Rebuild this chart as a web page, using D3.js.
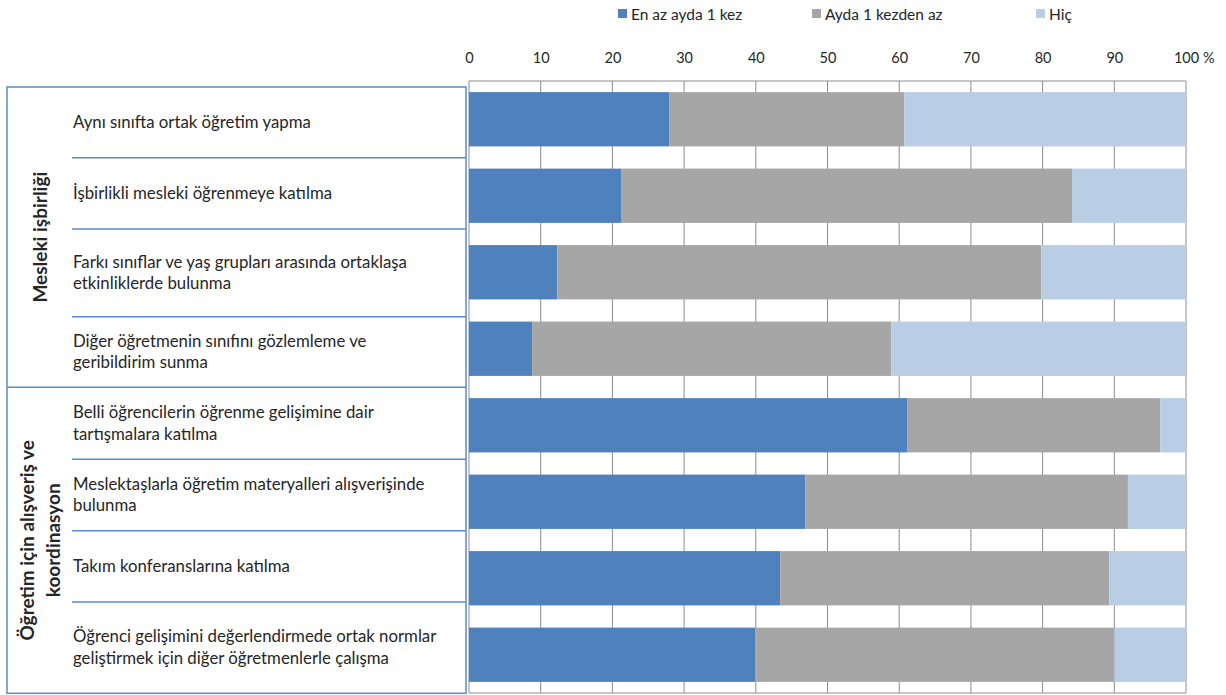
<!DOCTYPE html>
<html><head><meta charset="utf-8">
<script src="https://cdn.jsdelivr.net/npm/d3@7"></script>
<style>
body{margin:0;background:#fff;}
svg text{font-family:Lato,"Open Sans",sans-serif;fill:#262626;}
</style></head>
<body><svg id="c" width="1226" height="695"></svg>
<script>
// ---- data ----
const categories = [
  "Aynı sınıfta ortak öğretim yapma",
  "İşbirlikli mesleki öğrenmeye katılma",
  "Farkı sınıflar ve yaş grupları arasında ortaklaşa|etkinliklerde bulunma",
  "Diğer öğretmenin sınıfını gözlemleme ve|geribildirim sunma",
  "Belli öğrencilerin öğrenme gelişimine dair|tartışmalara katılma",
  "Meslektaşlarla öğretim materyalleri alışverişinde|bulunma",
  "Takım konferanslarına katılma",
  "Öğrenci gelişimini değerlendirmede ortak normlar|geliştirmek için diğer öğretmenlerle çalışma"
];
const enAzAydaBir = [27.9, 21.2, 12.3, 8.8, 61.1, 46.9, 43.4, 39.9];
const aydaBirdenAz = [32.8, 62.9, 67.5, 50.1, 35.3, 45.0, 45.9, 50.1];
const hic = [39.3, 15.9, 20.2, 41.1, 3.6, 8.1, 10.7, 10.0];
const seriesNames = ["En az ayda 1 kez", "Ayda 1 kezden az", "Hiç"];
const groups = ["Mesleki işbirliği", "Öğretim için alışveriş ve|koordinasyon"];
const groupSizes = [4, 4];
const ticks = [0,10,20,30,40,50,60,70,80,90,100];

// ---- layout ----
const colors = ["#4F81BD", "#A6A6A6", "#B9CDE5"];
const svg = d3.select("#c");
const x = d3.scaleLinear().domain([0,100]).range([469,1186]);
const y = d3.scaleBand().domain(d3.range(categories.length)).range([81,693]).paddingInner(0.29).paddingOuter(0.145);

// gridlines
svg.append("g").selectAll("line").data(ticks).join("line")
  .attr("x1", d=>x(d)).attr("x2", d=>x(d)).attr("y1", 81).attr("y2", 693)
  .attr("stroke", "#8c8c8c").attr("stroke-width", 1);
svg.append("line").attr("x1", x(0)).attr("x2", x(100)).attr("y1", 81).attr("y2", 81).attr("stroke","#8c8c8c");
svg.append("line").attr("x1", x(0)).attr("x2", x(100)).attr("y1", 693).attr("y2", 693).attr("stroke","#8c8c8c");

// stacked bars
const rows = categories.map((c,i)=>({i, vals:[enAzAydaBir[i], aydaBirdenAz[i], hic[i]]}));
const stack = d3.stack().keys([0,1,2]).value((d,k)=>d.vals[k]);
const stacked = stack(rows);
svg.append("g").selectAll("g").data(stacked).join("g").attr("fill", (d,k)=>colors[k])
  .selectAll("rect").data(d=>d).join("rect")
  .attr("x", d=>x(d[0])).attr("width", d=>x(d[1])-x(d[0]))
  .attr("y", d=>y(d.data.i)).attr("height", y.bandwidth());

// top axis labels
const axis = d3.axisTop(x).tickValues(ticks).tickSize(0).tickPadding(0);
const ag = svg.append("g").attr("transform","translate(0,63)").call(axis);
ag.select(".domain").remove();
ag.selectAll("text").attr("font-size", 14.5).attr("font-family","Lato").attr("fill","#262626");
svg.append("text").attr("x", 1203).attr("y", 63).attr("font-size", 14.5).text("%");

// legend
const legX = [618, 812, 1036];
const lg = svg.append("g").selectAll("g").data(seriesNames).join("g")
  .attr("transform", (d,i)=>`translate(${legX[i]},0)`);
lg.append("rect").attr("x",0).attr("y",9).attr("width",9).attr("height",9).attr("fill",(d,i)=>colors[i]);
lg.append("text").attr("x",13).attr("y",19.5).attr("font-size",15.5).text(d=>d);

// left panel
const edge = "#5B8CCB";
const panelEdges = [87, 157.7, 229, 316.7, 387.3, 459.3, 530.7, 602, 693.3];
const pg = svg.append("g");
pg.append("rect").attr("x",7).attr("y",87).attr("width",459).attr("height",606.3)
  .attr("fill","none").attr("stroke",edge).attr("stroke-width",1.5);
[1,2,3,5,6,7].forEach(k=>{
  pg.append("line").attr("x1",72).attr("x2",466).attr("y1",panelEdges[k]).attr("y2",panelEdges[k])
    .attr("stroke",edge).attr("stroke-width",1.5);
});
pg.append("line").attr("x1",7).attr("x2",466).attr("y1",panelEdges[4]).attr("y2",panelEdges[4])
  .attr("stroke",edge).attr("stroke-width",1.5);

// category labels
categories.forEach((c,i)=>{
  const lines = c.split("|");
  const cy = (panelEdges[i]+panelEdges[i+1])/2;
  const lh = 21.5;
  const t = pg.append("text").attr("x",73).attr("font-size",16.8);
  lines.forEach((l,j)=>{
    t.append("tspan").attr("x",73).attr("y", cy + (j-(lines.length-1)/2)*lh + 5.5).text(l);
  });
});

// group labels
let start = 0;
groups.forEach((g,gi)=>{
  const y0 = panelEdges[start], y1 = panelEdges[start+groupSizes[gi]];
  const cy = (y0+y1)/2;
  const lines = g.split("|");
  const t = pg.append("text").attr("transform",`translate(40,${cy}) rotate(-90)`)
    .attr("text-anchor","middle").attr("font-size",19).attr("font-weight","bold");
  lines.forEach((l,j)=>{
    t.append("tspan").attr("x",0).attr("y",(j-(lines.length-1)/2)*26 + 7).text(l);
  });
  start += groupSizes[gi];
});
</script></body></html>
